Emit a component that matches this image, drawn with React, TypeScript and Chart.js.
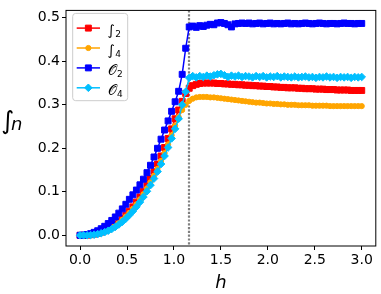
import React, { useEffect, useRef } from 'react';
import { Chart, registerables } from 'chart.js';
import { drawPoint } from 'chart.js/helpers';

Chart.register(...registerables);

const FONT = "'DejaVu Sans', sans-serif";

const H = [0,0.0375,0.075,0.1125,0.15,0.1875,0.225,0.2625,0.3,0.3375,
  0.375,0.4125,0.45,0.4875,0.525,0.5625,0.6,0.6375,0.675,0.7125,
  0.75,0.7875,0.825,0.8625,0.9,0.9375,0.975,1.0125,1.05,1.0875,
  1.125,1.1625,1.2,1.2375,1.275,1.3125,1.35,1.3875,1.425,1.4625,
  1.5,1.5375,1.575,1.6125,1.65,1.6875,1.725,1.7625,1.8,1.8375,
  1.875,1.9125,1.95,1.9875,2.025,2.0625,2.1,2.1375,2.175,2.2125,
  2.25,2.2875,2.325,2.3625,2.4,2.4375,2.475,2.5125,2.55,2.5875,
  2.625,2.6625,2.7,2.7375,2.775,2.8125,2.85,2.8875,2.925,2.9625,3];

const F2 = [0,0.0001,0.0005,0.0014,0.0027,0.0047,0.0073,0.0105,0.0145,0.0192,
  0.0247,0.031,0.0383,0.0464,0.0554,0.0654,0.0763,0.0883,0.1012,0.1153,
  0.1304,0.1465,0.1638,0.1823,0.2019,0.2227,0.2447,0.2679,0.288,0.308,
  0.326,0.338,0.344,0.347,0.349,0.35,0.35,0.35,0.35,0.349,
  0.349,0.348,0.348,0.347,0.347,0.346,0.346,0.345,0.345,0.344,
  0.344,0.343,0.343,0.342,0.342,0.341,0.341,0.34,0.34,0.339,
  0.339,0.339,0.338,0.338,0.337,0.337,0.337,0.336,0.336,0.336,
  0.335,0.335,0.335,0.334,0.334,0.334,0.334,0.333,0.333,0.333,0.333];

const F4 = [0,0.0001,0.0004,0.0012,0.0024,0.0042,0.0066,0.0096,0.0133,0.0177,
  0.0228,0.0288,0.0355,0.0432,0.0516,0.061,0.0712,0.0825,0.0945,0.1078,
  0.122,0.137,0.153,0.171,0.189,0.209,0.23,0.252,0.272,0.288,
  0.3,0.309,0.314,0.317,0.318,0.318,0.318,0.317,0.317,0.316,
  0.315,0.314,0.313,0.312,0.311,0.31,0.309,0.308,0.307,0.306,
  0.305,0.305,0.304,0.303,0.303,0.302,0.302,0.301,0.301,0.3,
  0.3,0.3,0.299,0.299,0.299,0.299,0.298,0.298,0.298,0.298,
  0.298,0.297,0.297,0.297,0.297,0.297,0.297,0.297,0.297,0.297,0.297];

const O2 = [0,0.0004,0.0017,0.0038,0.0068,0.0105,0.0152,0.0207,0.027,0.0342,
  0.0422,0.051,0.0608,0.0713,0.0827,0.093,0.104,0.116,0.129,0.144,
  0.161,0.18,0.2,0.221,0.242,0.263,0.285,0.307,0.331,0.37,
  0.43,0.479,0.481,0.478,0.482,0.48,0.483,0.485,0.484,0.488,
  0.489,0.487,0.484,0.479,0.486,0.487,0.488,0.487,0.488,0.486,
  0.487,0.488,0.486,0.487,0.488,0.486,0.487,0.486,0.487,0.488,
  0.486,0.487,0.486,0.487,0.488,0.487,0.486,0.487,0.488,0.487,
  0.486,0.487,0.487,0.486,0.487,0.488,0.487,0.487,0.486,0.487,0.487];

const O4 = [0,0,0.0001,0.0005,0.0014,0.0027,0.0047,0.0073,0.0105,0.0145,
  0.0192,0.0247,0.031,0.0383,0.0464,0.0554,0.0654,0.0763,0.0883,0.1012,
  0.1153,0.1304,0.1465,0.1638,0.1823,0.2019,0.2227,0.2447,0.268,0.3,
  0.33,0.362,0.366,0.363,0.366,0.364,0.367,0.365,0.368,0.37,
  0.371,0.368,0.364,0.367,0.365,0.367,0.364,0.366,0.365,0.363,
  0.366,0.364,0.366,0.363,0.365,0.364,0.366,0.363,0.365,0.364,
  0.363,0.365,0.363,0.364,0.365,0.363,0.364,0.362,0.364,0.363,
  0.365,0.363,0.364,0.362,0.364,0.363,0.364,0.362,0.364,0.363,0.364];

const HC = 1.155;
const X_TICKS = [0, 0.5, 1.0, 1.5, 2.0, 2.5, 3.0];
const Y_TICKS = [0, 0.1, 0.2, 0.3, 0.4, 0.5];

const SERIES = [
  { main: '∫', sub: '2', data: F2, color: '#ff0000', style: 'rect', radius: 4.2, order: 4 },
  { main: '∫', sub: '4', data: F4, color: '#ffa500', style: 'circle', radius: 2.6, order: 3 },
  { main: '𝒪', sub: '2', data: O2, color: '#0000ff', style: 'rect', radius: 4.2, order: 2 },
  { main: '𝒪', sub: '4', data: O4, color: '#00bfff', style: 'rectRot', radius: 3.8, order: 1 },
];

const overlay = {
  id: 'overlay',
  beforeDatasetsDraw(chart: any) {
    const { ctx, chartArea: a, scales } = chart;
    const px = Math.round(scales.x.getPixelForValue(HC));
    ctx.save();
    ctx.strokeStyle = '#808080';
    ctx.lineWidth = 2.2;
    ctx.setLineDash([2.2, 1.6]);
    ctx.beginPath();
    ctx.moveTo(px, a.top);
    ctx.lineTo(px, a.bottom);
    ctx.stroke();
    ctx.restore();
  },
  afterDatasetsDraw(chart: any) {
    const { ctx, chartArea: a } = chart;
    ctx.save();
    // spines
    ctx.strokeStyle = '#000';
    ctx.lineWidth = 1;
    ctx.strokeRect(a.left, a.top, a.right - a.left, a.bottom - a.top);

    // legend
    const lx = a.left + 6.7, ly = a.top + 3, lw = 55, lh = 87.3, r = 3;
    ctx.beginPath();
    ctx.moveTo(lx + r, ly);
    ctx.lineTo(lx + lw - r, ly);
    ctx.quadraticCurveTo(lx + lw, ly, lx + lw, ly + r);
    ctx.lineTo(lx + lw, ly + lh - r);
    ctx.quadraticCurveTo(lx + lw, ly + lh, lx + lw - r, ly + lh);
    ctx.lineTo(lx + r, ly + lh);
    ctx.quadraticCurveTo(lx, ly + lh, lx, ly + lh - r);
    ctx.lineTo(lx, ly + r);
    ctx.quadraticCurveTo(lx, ly, lx + r, ly);
    ctx.closePath();
    ctx.fillStyle = 'rgba(255,255,255,0.8)';
    ctx.fill();
    ctx.strokeStyle = '#cccccc';
    ctx.stroke();

    SERIES.forEach((s, i) => {
      const y = a.top + 17.7 + i * 19.9;
      const x0 = a.left + 10.7, x1 = a.left + 34;
      ctx.strokeStyle = s.color;
      ctx.lineWidth = 1.5;
      ctx.beginPath();
      ctx.moveTo(x0, y);
      ctx.lineTo(x1, y);
      ctx.stroke();
      ctx.fillStyle = s.color;
      ctx.lineWidth = 1;
      drawPoint(ctx, { pointStyle: s.style, radius: s.radius, borderWidth: 1, rotation: 0 } as any, (x0 + x1) / 2, y);
      ctx.fillStyle = '#000';
      ctx.textBaseline = 'alphabetic';
      ctx.textAlign = 'left';
      ctx.font = `14px ${FONT}`;
      const tx = a.left + 41.5;
      ctx.fillText(s.main, tx, y + 7);
      const w = ctx.measureText(s.main).width;
      ctx.font = `9px ${FONT}`;
      ctx.fillText(s.sub, tx + w + 0.5, y + 9);
    });

    // y label
    ctx.fillStyle = '#000';
    ctx.textAlign = 'left';
    ctx.textBaseline = 'alphabetic';
    ctx.font = `italic 25px ${FONT}`;
    ctx.fillText('∫', 1, 129);
    ctx.font = `italic 18px ${FONT}`;
    ctx.fillText('n', 11, 130);
    ctx.restore();
  },
};

export default function App() {
  const ref = useRef<HTMLCanvasElement>(null);
  useEffect(() => {
    const datasets = SERIES.map((s) => ({
      label: s.main + s.sub,
      data: H.map((h, i) => ({ x: h, y: s.data[i] })),
      borderColor: s.color,
      backgroundColor: s.color,
      pointBackgroundColor: s.color,
      pointBorderColor: s.color,
      pointStyle: s.style,
      pointRadius: s.radius,
      pointBorderWidth: 1,
      borderWidth: 1.5,
      showLine: true,
      fill: false,
      tension: 0,
      order: s.order,
    }));
    const chart = new Chart(ref.current as HTMLCanvasElement, {
      type: 'scatter',
      data: { datasets } as any,
      options: {
        animation: false,
        responsive: false,
        devicePixelRatio: 1,
        events: [],
        layout: { padding: { left: 0, top: 3, right: 3, bottom: 0 } },
        plugins: { legend: { display: false }, tooltip: { enabled: false } },
        scales: {
          x: {
            type: 'linear',
            min: -0.15,
            max: 3.15,
            afterFit: (s: any) => { s.height = 48; },
            afterBuildTicks: (s: any) => { s.ticks = X_TICKS.map((v) => ({ value: v })); },
            ticks: {
              color: '#000',
              font: { family: FONT, size: 14 },
              padding: 2,
              maxRotation: 0,
              autoSkip: false,
              callback: (v: any) => Number(v).toFixed(1),
            },
            grid: { display: true, drawOnChartArea: false, drawTicks: true, tickLength: 4, color: '#000' },
            border: { display: false },
            title: {
              display: true,
              text: 'h',
              color: '#000',
              font: { family: FONT, size: 18, style: 'italic' },
              padding: { top: 0, bottom: 0 },
            },
          },
          y: {
            type: 'linear',
            min: -0.0246,
            max: 0.517,
            afterFit: (s: any) => { s.width = 66; },
            afterBuildTicks: (s: any) => { s.ticks = Y_TICKS.map((v) => ({ value: v })); },
            ticks: {
              color: '#000',
              font: { family: FONT, size: 14 },
              padding: 2,
              autoSkip: false,
              callback: (v: any) => Number(v).toFixed(1),
            },
            grid: { display: true, drawOnChartArea: false, drawTicks: true, tickLength: 4, color: '#000' },
            border: { display: false },
          },
        },
      },
      plugins: [overlay],
    } as any);
    return () => chart.destroy();
  }, []);
  return (
    <div style={{ position: 'fixed', left: 0, top: 0, width: 381, height: 294, background: '#fff' }}>
      <canvas ref={ref} width={381} height={294} style={{ display: 'block' }} />
    </div>
  );
}
